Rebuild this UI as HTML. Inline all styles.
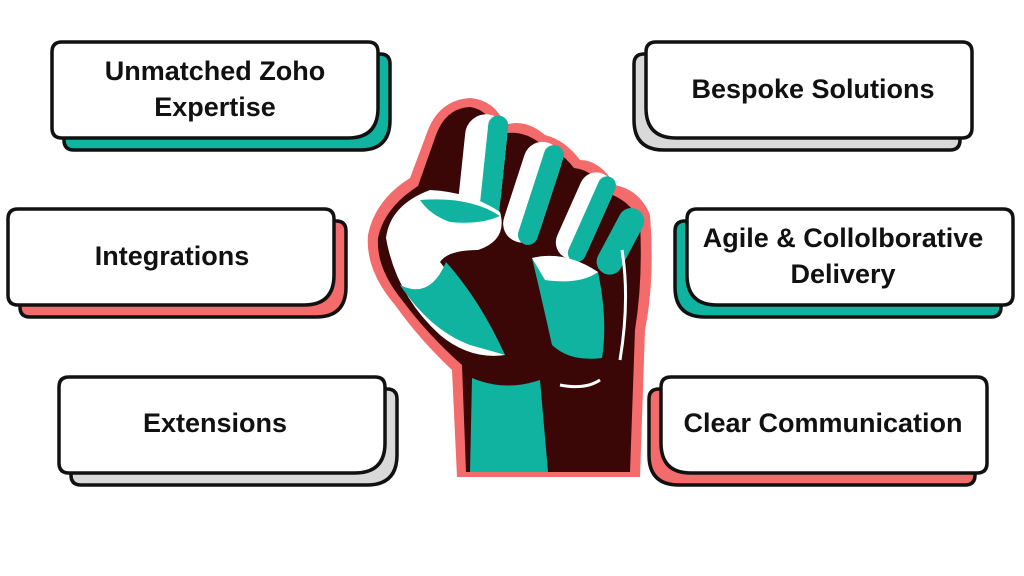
<!DOCTYPE html>
<html><head><style>
html,body{margin:0;padding:0;background:#fff;width:1024px;height:576px;overflow:hidden}
text{font-family:"Liberation Sans",sans-serif;font-weight:bold;font-size:27px;fill:#111;text-anchor:middle}
</style></head><body>
<svg width="1024" height="576" viewBox="0 0 1024 576">
<defs>
<path id="L" d="M10,0 H316 Q326,0 326,10 V66 Q326,96 296,96 H10 Q0,96 0,86 V10 Q0,0 10,0 Z"/>
<path id="R" d="M10,0 H316 Q326,0 326,10 V86 Q326,96 316,96 H30 Q0,96 0,66 V10 Q0,0 10,0 Z"/>
</defs>
<g stroke="#111" stroke-width="3.5" stroke-linejoin="round">
<use href="#L" x="64" y="54" fill="#0fb3a0"/>
<use href="#L" x="52" y="42" fill="#fff"/>
<use href="#R" x="634" y="54" fill="#d9d9d9"/>
<use href="#R" x="646" y="42" fill="#fff"/>
<use href="#L" x="20" y="221" fill="#f36b6b"/>
<use href="#L" x="8" y="209" fill="#fff"/>
<use href="#R" x="675" y="221" fill="#0fb3a0"/>
<use href="#R" x="687" y="209" fill="#fff"/>
<use href="#L" x="71" y="389" fill="#d9d9d9"/>
<use href="#L" x="59" y="377" fill="#fff"/>
<use href="#R" x="649" y="389" fill="#f36b6b"/>
<use href="#R" x="661" y="377" fill="#fff"/>
</g>
<text x="215" y="80">Unmatched Zoho</text>
<text x="215" y="116">Expertise</text>
<text x="813" y="98">Bespoke Solutions</text>
<text x="172" y="265">Integrations</text>
<text x="843" y="247">Agile &amp; Collolborative</text>
<text x="843" y="283">Delivery</text>
<text x="215" y="432">Extensions</text>
<text x="823" y="432">Clear Communication</text>

<!-- fist -->
<path d="M457,477 L452,370 Q420,340 395,305 Q365,270 368,235 Q375,200 410,178 L428,130 Q440,100 470,98 Q495,100 505,125 Q525,118 545,135 Q565,140 580,160 Q600,160 615,185 Q640,190 650,215 Q655,280 645,330 L640,477 Z" fill="#f36b6b"/>
<path d="M466,472 L462,365 Q428,335 402,300 Q376,268 378,238 Q384,208 418,186 L436,135 Q446,108 470,107 Q490,110 498,135 Q520,128 540,143 Q560,150 574,168 Q594,170 607,193 Q630,200 640,222 Q643,280 635,330 L630,472 Z" fill="#3a0606"/>
<!-- forearm teal -->
<path d="M470,472 L472,378 Q505,392 540,380 L548,472 Z" fill="#0fb3a0"/>
<!-- fingers -->
<g transform="rotate(6 482 165)"><rect x="462" y="114" width="42" height="104" rx="21" fill="#fff"/><rect x="484" y="114" width="20" height="104" rx="10" fill="#0fb3a0"/></g>
<g transform="rotate(18 532 190)"><rect x="514" y="140" width="38" height="104" rx="19" fill="#fff"/><rect x="532" y="140" width="20" height="104" rx="10" fill="#0fb3a0"/></g>
<g transform="rotate(24 585 215)"><rect x="568" y="170" width="34" height="92" rx="17" fill="#fff"/><rect x="584" y="170" width="18" height="92" rx="9" fill="#0fb3a0"/></g>
<g transform="rotate(28 620 240)"><rect x="608" y="205" width="26" height="72" rx="13" fill="#0fb3a0"/></g>
<!-- thumb/hand white -->
<path d="M386,238 Q390,205 430,190 Q470,192 500,212 Q508,240 478,250 Q448,250 440,262 Q470,300 505,355 Q470,360 440,335 Q396,295 386,238 Z" fill="#fff"/>
<path d="M400,285 Q430,330 470,345 Q495,352 505,355 Q480,300 446,262 Q430,300 400,285 Z" fill="#0fb3a0"/>
<path d="M420,200 Q470,196 500,216 Q480,225 450,222 Q430,215 420,200 Z" fill="#0fb3a0"/>
<!-- palm -->
<path d="M532,258 Q565,250 598,272 Q608,320 602,358 Q570,362 552,345 Q542,300 532,258 Z" fill="#0fb3a0"/>
<path d="M532,258 Q565,250 598,272 Q580,285 545,280 Z" fill="#fff"/>
<path d="M560,385 Q585,390 600,380" stroke="#fff" stroke-width="3" fill="none"/>
<path d="M622,250 Q630,300 620,360" stroke="#fff" stroke-width="3" fill="none"/>
</svg>
</body></html>
